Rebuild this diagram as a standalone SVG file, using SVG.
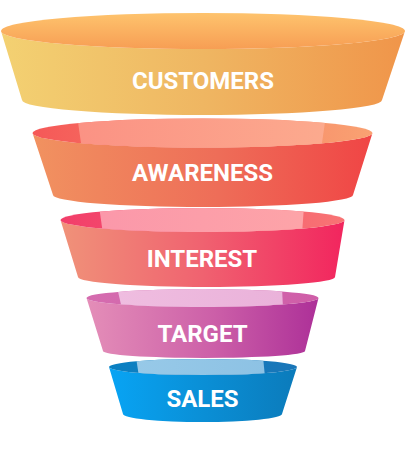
<svg xmlns="http://www.w3.org/2000/svg" width="406" height="452" viewBox="0 0 406 452">
  <defs>
    <linearGradient id="s1" x1="0" y1="0" x2="1" y2="0">
      <stop offset="0" stop-color="#f3d172"/>
      <stop offset="0.5" stop-color="#efb662"/>
      <stop offset="1" stop-color="#f0954a"/>
    </linearGradient>
    <linearGradient id="t1" x1="0" y1="0" x2="0" y2="1">
      <stop offset="0" stop-color="#fec36d"/>
      <stop offset="1" stop-color="#f79e54"/>
    </linearGradient>
    <linearGradient id="s2" x1="0" y1="0" x2="1" y2="0">
      <stop offset="0" stop-color="#f19260"/>
      <stop offset="0.55" stop-color="#ee6d58"/>
      <stop offset="1" stop-color="#f04545"/>
    </linearGradient>
    <linearGradient id="t2" x1="0" y1="0" x2="1" y2="0">
      <stop offset="0" stop-color="#f55858"/>
      <stop offset="1" stop-color="#f9a272"/>
    </linearGradient>
    <linearGradient id="h2" x1="0" y1="0" x2="1" y2="0">
      <stop offset="0" stop-color="#fb9284"/>
      <stop offset="1" stop-color="#fcaa8e"/>
    </linearGradient>
    <linearGradient id="s3" x1="0" y1="0" x2="1" y2="0">
      <stop offset="0" stop-color="#f09279"/>
      <stop offset="0.5" stop-color="#f06270"/>
      <stop offset="1" stop-color="#f2255e"/>
    </linearGradient>
    <linearGradient id="t3" x1="0" y1="0" x2="1" y2="0">
      <stop offset="0" stop-color="#f23e6a"/>
      <stop offset="1" stop-color="#f87474"/>
    </linearGradient>
    <linearGradient id="h3" x1="0" y1="0" x2="1" y2="0">
      <stop offset="0" stop-color="#fb98aa"/>
      <stop offset="1" stop-color="#fda4a8"/>
    </linearGradient>
    <linearGradient id="s4" x1="0" y1="0" x2="1" y2="0">
      <stop offset="0" stop-color="#e48eb8"/>
      <stop offset="0.55" stop-color="#cc5fa8"/>
      <stop offset="1" stop-color="#ad3098"/>
    </linearGradient>
    <linearGradient id="t4" x1="0" y1="0" x2="1" y2="0">
      <stop offset="0" stop-color="#d56caf"/>
      <stop offset="1" stop-color="#cf5ea8"/>
    </linearGradient>
    <linearGradient id="h4" x1="0" y1="0" x2="1" y2="0">
      <stop offset="0" stop-color="#efbde0"/>
      <stop offset="1" stop-color="#eab2da"/>
    </linearGradient>
    <linearGradient id="s5" x1="0" y1="0" x2="1" y2="0">
      <stop offset="0" stop-color="#08a4f4"/>
      <stop offset="0.5" stop-color="#0a8fd6"/>
      <stop offset="1" stop-color="#0b7bbb"/>
    </linearGradient>
    <linearGradient id="t5" x1="0" y1="0" x2="1" y2="0">
      <stop offset="0" stop-color="#0a80c2"/>
      <stop offset="1" stop-color="#1a76b8"/>
    </linearGradient>
    <linearGradient id="h5" x1="0" y1="0" x2="1" y2="0">
      <stop offset="0" stop-color="#97c9e8"/>
      <stop offset="1" stop-color="#8dc2e4"/>
    </linearGradient>
    <clipPath id="c2"><ellipse cx="202.5" cy="133" rx="170" ry="14.5"/></clipPath>
    <clipPath id="c3"><ellipse cx="202.5" cy="220" rx="142" ry="12"/></clipPath>
    <clipPath id="c4"><ellipse cx="202.5" cy="298" rx="116" ry="9"/></clipPath>
    <clipPath id="c5"><ellipse cx="203" cy="367" rx="94" ry="8"/></clipPath>
  </defs>
  <style>
    .lbl { font-family: Roboto, "Liberation Sans", sans-serif; font-weight: 700; font-size: 24px; fill: #ffffff; text-anchor: middle; }
  </style>

  <g id="customers">
    <path d="M1,31 A202,18 0 0 0 405,31 L382,100 A180,15 0 0 1 22,100 Z" fill="url(#s1)"/>
    <ellipse cx="203" cy="31" rx="202" ry="18" fill="url(#t1)"/>
    <text class="lbl" x="203" y="89">CUSTOMERS</text>
  </g>

  <g id="awareness">
    <path d="M32.5,133 A170,14.5 0 0 0 372.5,133 L353,195 A150,12 0 0 1 53,195 Z" fill="url(#s2)"/>
    <ellipse cx="202.5" cy="133" rx="170" ry="14.5" fill="url(#t2)"/>
    <polygon clip-path="url(#c2)" points="77,115 326,115 321,150 82,150" fill="url(#h2)"/>
    <text class="lbl" x="202.5" y="181">AWARENESS</text>
  </g>

  <g id="interest">
    <path d="M60.5,220 A142,12 0 0 0 344.5,220 L335,277 A128.5,10 0 0 1 78,277 Z" fill="url(#s3)"/>
    <ellipse cx="202.5" cy="220" rx="142" ry="12" fill="url(#t3)"/>
    <polygon clip-path="url(#c3)" points="99,206 304,206 302,234 103,234" fill="url(#h3)"/>
    <text class="lbl" x="202" y="267">INTEREST</text>
  </g>

  <g id="target">
    <path d="M86.5,298 A116,9 0 0 0 318.5,298 L305,351 A101,7 0 0 1 103,351 Z" fill="url(#s4)"/>
    <ellipse cx="202.5" cy="298" rx="116" ry="9" fill="url(#t4)"/>
    <polygon clip-path="url(#c4)" points="117,287 282,287 283,309 122,309" fill="url(#h4)"/>
    <text class="lbl" x="202.5" y="342">TARGET</text>
  </g>

  <g id="sales">
    <path d="M109,367 A94,8 0 0 0 297,367 L282,414 A79.5,8 0 0 1 123,414 Z" fill="url(#s5)"/>
    <ellipse cx="203" cy="367" rx="94" ry="8" fill="url(#t5)"/>
    <polygon clip-path="url(#c5)" points="136,357 263,357 265,377 139,377" fill="url(#h5)"/>
    <text class="lbl" x="202.5" y="407">SALES</text>
  </g>

  <g id="connectors"></g>
</svg>
